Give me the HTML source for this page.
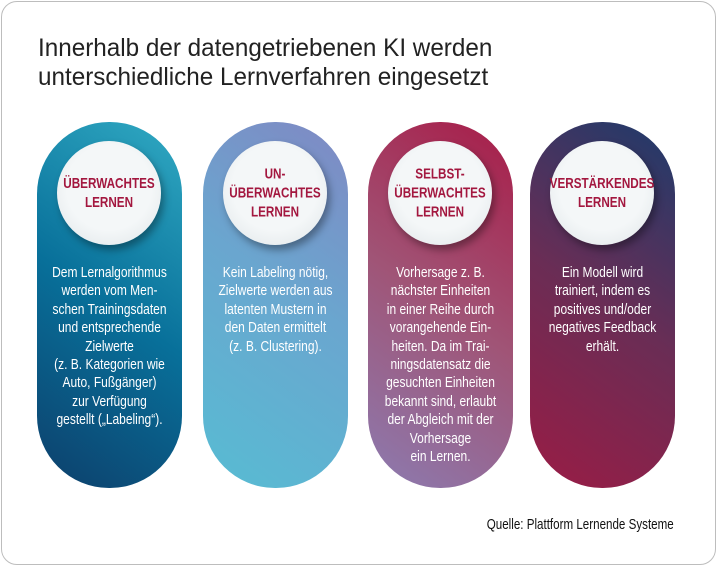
<!DOCTYPE html>
<html><head><meta charset="utf-8">
<style>
body{margin:0;width:718px;height:567px;background:#fff;overflow:hidden;font-family:"Liberation Sans",sans-serif;}
.frame{position:absolute;left:1px;top:1px;width:713px;height:562px;border:1px solid #bdbdbd;border-radius:16px;}
.title{position:absolute;left:38px;top:34px;font-size:25px;line-height:28.5px;color:#222;transform:scaleX(0.97);transform-origin:0 0;white-space:nowrap;}
.pill{position:absolute;top:122px;width:145px;height:366px;border-radius:72px;}
.circ{position:absolute;left:20px;top:19px;width:104px;height:104px;border-radius:50%;background:radial-gradient(circle at 50% 45%,#f4f7f8 55%,#dde3e6 100%);box-shadow:3px 5px 8px rgba(0,0,0,0.35);}
.circ span{position:absolute;left:-20px;width:144px;top:50%;transform:translateY(-50%) scaleX(0.78);text-align:center;font-weight:bold;font-size:15px;line-height:19px;color:#a3173f;white-space:nowrap;}
.txt{position:absolute;left:-20px;width:185px;top:142px;text-align:center;color:#fff;font-size:15px;line-height:18.4px;transform:scaleX(0.8);transform-origin:50% 0;white-space:nowrap;}
.src{position:absolute;right:44px;top:517px;font-size:14.5px;color:#111;transform:scaleX(0.8);transform-origin:100% 0;white-space:nowrap;}
</style></head><body>
<div class="frame"></div>
<div class="title">Innerhalb der datengetriebenen KI werden<br>unterschiedliche Lernverfahren eingesetzt</div>

<div class="pill" style="left:37px;background:linear-gradient(35deg,#0d3f6b 0%,#08709a 50%,#31aac3 100%);">
 <div class="circ"><span>ÜBERWACHTES<br>LERNEN</span></div>
 <div class="txt">Dem Lernalgorithmus<br>werden vom Men-<br>schen Trainingsdaten<br>und entsprechende<br>Zielwerte<br>(z. B. Kategorien wie<br>Auto, Fußgänger)<br>zur Verfügung<br>gestellt („Labeling“).</div>
</div>

<div class="pill" style="left:203px;background:linear-gradient(35deg,#57bcd3 0%,#6aa6cf 55%,#8088c3 100%);">
 <div class="circ"><span>UN-<br>ÜBERWACHTES<br>LERNEN</span></div>
 <div class="txt">Kein Labeling nötig,<br>Zielwerte werden aus<br>latenten Mustern in<br>den Daten ermittelt<br>(z. B. Clustering).</div>
</div>

<div class="pill" style="left:368px;background:linear-gradient(35deg,#8c7bb0 0%,#a05476 50%,#a81c48 100%);">
 <div class="circ"><span>SELBST-<br>ÜBERWACHTES<br>LERNEN</span></div>
 <div class="txt">Vorhersage z. B.<br>nächster Einheiten<br>in einer Reihe durch<br>vorangehende Ein-<br>heiten. Da im Trai-<br>ningsdatensatz die<br>gesuchten Einheiten<br>bekannt sind, erlaubt<br>der Abgleich mit der<br>Vorhersage<br>ein Lernen.</div>
</div>

<div class="pill" style="left:530px;background:linear-gradient(35deg,#9a1c45 0%,#6a2d55 50%,#1d3b6b 100%);">
 <div class="circ"><span>VERSTÄRKENDES<br>LERNEN</span></div>
 <div class="txt">Ein Modell wird<br>trainiert, indem es<br>positives und/oder<br>negatives Feedback<br>erhält.</div>
</div>

<div class="src">Quelle: Plattform Lernende Systeme</div>
</body></html>
